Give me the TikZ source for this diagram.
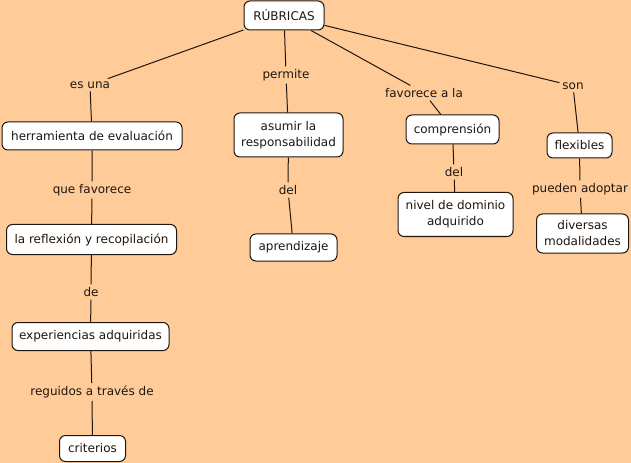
\documentclass[tikz,border=0pt]{standalone}
\usepackage{fontspec}
\setmainfont{DejaVu Sans}
\definecolor{bg}{RGB}{255,204,153}
\definecolor{ink}{RGB}{30,22,15}
\begin{document}
\begin{tikzpicture}[x=0.75pt,y=-0.75pt,
  every node/.style={font=\fontsize{9}{12}\selectfont, text=ink},
  concept/.style={draw=ink, line width=0.75pt, fill=white, rounded corners=4.5pt,
    inner sep=0pt, align=center},
  linklbl/.style={inner sep=2pt, align=center},
  conn/.style={draw=ink, line width=0.75pt}]
\fill[bg] (0,0) rectangle (631,463);
\useasboundingbox (0,0) rectangle (631,463);
% concepts
\node[concept, minimum width=60pt, minimum height=21.75pt] (rub) at (284,15.5) {RÚBRICAS};
\node[concept, minimum width=135pt, minimum height=21pt] (herr) at (92,136) {herramienta de evaluación};
\node[concept, minimum width=81.75pt, minimum height=33pt] (asum) at (288.5,135) {asumir la\\responsabilidad};
\node[concept, minimum width=69.75pt, minimum height=21.75pt] (comp) at (452.5,129.5) {comprensión};
\node[concept, minimum width=48.75pt, minimum height=18.75pt] (flex) at (579.5,145.5) {flexibles};
\node[concept, minimum width=86.25pt, minimum height=33pt] (nivel) at (455.5,214.5) {nivel de dominio\\adquirido};
\node[concept, minimum width=69pt, minimum height=29.25pt] (div) at (582.5,233.5) {diversas\\modalidades};
\node[concept, minimum width=65.25pt, minimum height=20.25pt] (apr) at (293.5,247.5) {aprendizaje};
\node[concept, minimum width=127.5pt, minimum height=22.5pt] (refl) at (91.5,239.5) {la reflexión y recopilación};
\node[concept, minimum width=117.75pt, minimum height=21pt] (exp) at (90.5,336.5) {experiencias adquiridas};
\node[concept, minimum width=49.5pt, minimum height=19.5pt] (crit) at (92.5,448.5) {criterios};
% linking phrases
\node[linklbl] (l1) at (90,85) {es una};
\node[linklbl] (l2) at (286,75) {permite};
\node[linklbl] (l3) at (424,93) {favorece a la};
\node[linklbl] (l4) at (573,86) {son};
\node[linklbl] (l5) at (92,190) {que favorece};
\node[linklbl] (l6) at (288,190) {del};
\node[linklbl] (l7) at (454,172) {del};
\node[linklbl] (l8) at (580,189) {pueden adoptar};
\node[linklbl] (l9) at (91,292) {de};
\node[linklbl] (l10) at (92,392) {reguidos a través de};
% connectors
\draw[conn] (rub) -- (l1) -- (herr);
\draw[conn] (rub) -- (l2) -- (asum);
\draw[conn] (rub) -- (l3) -- (comp);
\draw[conn] (rub) -- (l4) -- (flex);
\draw[conn] (herr) -- (l5) -- (refl);
\draw[conn] (asum) -- (l6) -- (apr);
\draw[conn] (comp) -- (l7) -- (nivel);
\draw[conn] (flex) -- (l8) -- (div);
\draw[conn] (refl) -- (l9) -- (exp);
\draw[conn] (exp) -- (l10) -- (crit);
\end{tikzpicture}
\end{document}
